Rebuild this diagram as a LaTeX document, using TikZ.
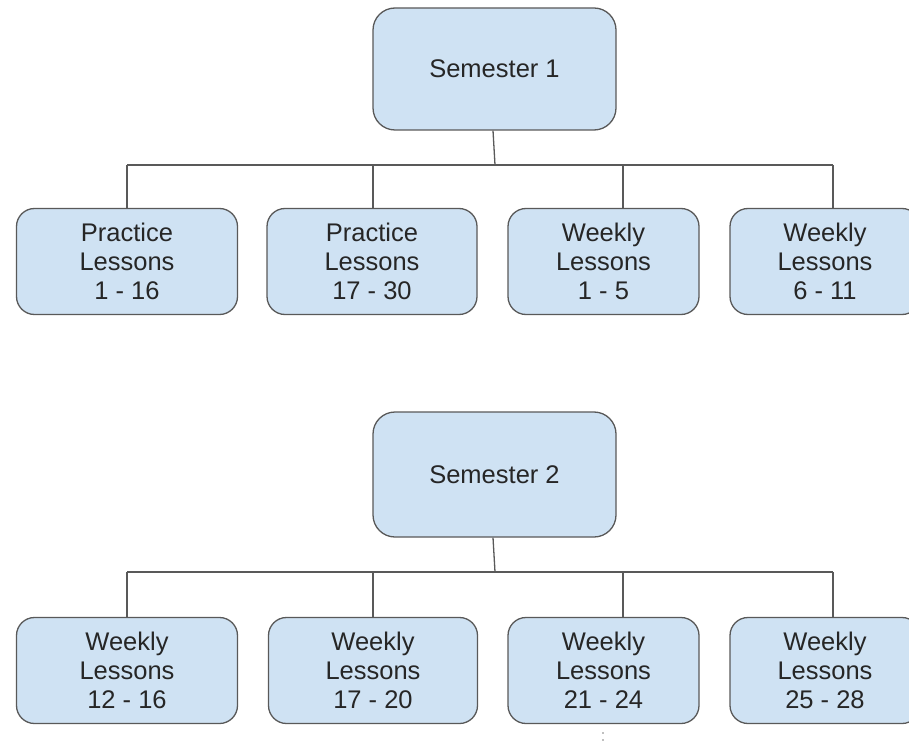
\documentclass[tikz,border=0pt]{standalone}
\usepackage{fontspec}
\setmainfont{Liberation Sans}
\definecolor{boxfill}{HTML}{CFE2F3}
\definecolor{boxline}{HTML}{595959}
\definecolor{linecol}{HTML}{595959}
\definecolor{txt}{HTML}{262626}
\begin{document}
\begin{tikzpicture}[x=1pt,y=-1pt,
  box/.style={draw=boxline, fill=boxfill, line width=1.3pt, align=center,
    text=txt, font=\fontsize{25.5}{29}\selectfont, inner sep=0pt},
  sem/.style={box, minimum width=243pt, rounded corners=22pt},
  leaf/.style={box, minimum height=106pt, rounded corners=18pt},
  link/.style={draw=linecol, line width=1.3pt}]
\useasboundingbox (0,0) rectangle (909,743);

% ---------- Semester 1 ----------
\node[sem, minimum height=122pt] (s1) at (494.5,69) {Semester 1};
\node[leaf, minimum width=221pt] (a1) at (127,261.5) {Practice\\Lessons\\1 - 16};
\node[leaf, minimum width=210pt] (a2) at (372,261.5) {Practice\\Lessons\\17 - 30};
\node[leaf, minimum width=191pt] (a3) at (603.5,261.5) {Weekly\\Lessons\\1 - 5};
\node[leaf, minimum width=190pt] (a4) at (825,261.5) {Weekly\\Lessons\\6 - 11};

\coordinate (b1) at (495,165);
\coordinate (s1o) at ([xshift=-1.5pt]s1.south);
\coordinate (t1) at (a1.north);
\coordinate (t2) at ([xshift=1pt]a2.north);
\coordinate (t3) at ([xshift=19.5pt]a3.north);
\coordinate (t4) at ([xshift=8pt]a4.north);
\draw[link] (s1o) -- (b1);
\draw[link] (t1 |- b1) -- (t4 |- b1);
\draw[link] (t1) -- (t1 |- b1);
\draw[link] (t2) -- (t2 |- b1);
\draw[link] (t3) -- (t3 |- b1);
\draw[link] (t4) -- (t4 |- b1);

% ---------- Semester 2 ----------
\node[sem, minimum height=125pt] (s2) at (494.5,474.5) {Semester 2};
\node[leaf, minimum width=221pt] (c1) at (127,670.5) {Weekly\\Lessons\\12 - 16};
\node[leaf, minimum width=209pt] (c2) at (373,670.5) {Weekly\\Lessons\\17 - 20};
\node[leaf, minimum width=191pt] (c3) at (603.5,670.5) {Weekly\\Lessons\\21 - 24};
\node[leaf, minimum width=190pt] (c4) at (825,670.5) {Weekly\\Lessons\\25 - 28};

\coordinate (b2) at (495,572);
\coordinate (s2o) at ([xshift=-1.5pt]s2.south);
\coordinate (u1) at (c1.north);
\coordinate (u2) at (c2.north);
\coordinate (u3) at ([xshift=19.5pt]c3.north);
\coordinate (u4) at ([xshift=8pt]c4.north);
\draw[link] (s2o) -- (b2);
\draw[link] (u1 |- b2) -- (u4 |- b2);
\draw[link] (u1) -- (u1 |- b2);
\draw[link] (u2) -- (u2 |- b2);
\draw[link] (u3) -- (u3 |- b2);
\draw[link] (u4) -- (u4 |- b2);

% small stray mark under the third box
\coordinate (m1) at (603,733);
\coordinate (m2) at (603,740);
\fill[gray] (m1) circle (0.9pt);
\fill[gray] (m2) circle (0.9pt);
\end{tikzpicture}
\end{document}
